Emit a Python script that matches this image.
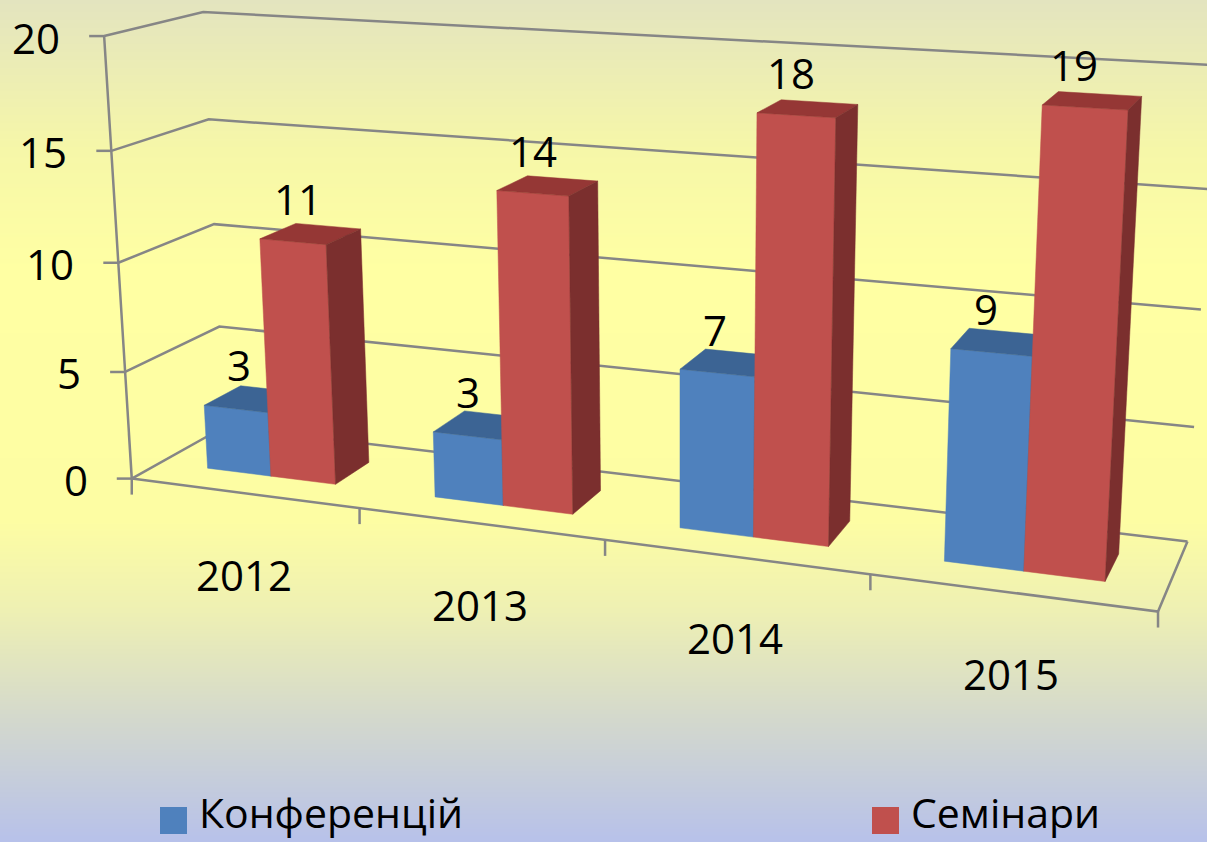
import numpy as np, plotly.graph_objects as go

years = ["2012", "2013", "2014", "2015"]
conf = [3, 3, 7, 9]
sem = [11, 14, 18, 19]
value_ticks = [0, 5, 10, 15, 20]
series_names = ["Конференцій", "Семінари"]
W, H = 1207, 842

# Camera of the 3-D chart: (category position, depth 0..1, value) -> picture
CAMERA = np.array([[214.85, 108.52, -1.6306, 131.77],
                   [11.204, -21.976, -22.213, 478.6],
                   [-0.036022, 0.070183, -0.002396, 1.0]])
def pr(X, Y, Z):
    h = CAMERA @ np.array([X, Y, Z, 1.0])
    return h[0] / h[2], h[1] / h[2]

fig = go.Figure()
stops = [0, 150, 270, 520, 610, 720, 842]
cols = ["#e3e4bf", "#f6f7a8", "#ffffa3", "#fdfda3", "#eef0b3", "#d3d8cd", "#b7c1ea"]
fig.add_trace(go.Heatmap(z=[[s, s] for s in stops], y=stops, x=[0, W],
                         colorscale=[[s / 842, c] for s, c in zip(stops, cols)],
                         zsmooth="best", showscale=False, hoverinfo="skip"))

GRID = "#868686"
def line(pts, w=2.5):
    q = [pr(*p) if len(p) == 3 else p for p in pts]
    fig.add_trace(go.Scatter(x=[a[0] for a in q], y=[a[1] for a in q], mode="lines",
                             line=dict(color=GRID, width=w), hoverinfo="skip"))
def poly(pts, c):
    q = [pr(*p) for p in pts] + [pr(*pts[0])]
    fig.add_trace(go.Scatter(x=[a[0] for a in q], y=[a[1] for a in q], mode="lines", fill="toself",
                             fillcolor=c, line=dict(color=c, width=.5), hoverinfo="skip"))

for v in value_ticks:
    line([(0, 0, v), (0, 1, v), (4, 1, v)])
    x, y = pr(0, 0, v)
    line([(x - 15, y), (x, y)])
line([(0, 0, 0), (0, 0, 20)])
line([(0, 0, 0), (4, 0, 0), (4, 1, 0)])
for i in range(5):
    x, y = pr(i, 0, 0)
    line([(x, y), (x, y + 16)])

BW, L, Y0, Y1 = .2857, .2143, .3, .7
def bar(x0, x1, z, fr, top, side):
    poly([(x0, Y0, 0), (x1, Y0, 0), (x1, Y0, z), (x0, Y0, z)], fr)
    poly([(x0, Y0, z), (x1, Y0, z), (x1, Y1, z), (x0, Y1, z)], top)
    poly([(x1, Y0, 0), (x1, Y1, 0), (x1, Y1, z), (x1, Y0, z)], side)
for i, (a, b) in enumerate(zip(conf, sem)):
    bar(i + L, i + L + BW, a, "#4f81bd", "#3c6494", "#3c6494")
    bar(i + L + BW, i + L + 2 * BW, b, "#c0504d", "#953735", "#7b2f2e")

ann = []
f = dict(family="Open Sans", size=42, color="black")
def T(x, y, t, font=f, xa="center", ya="middle"):
    ann.append(dict(x=x, y=y, text=t, showarrow=False, font=font, xanchor=xa, yanchor=ya, xref="x", yref="y"))
for v in value_ticks:
    x, y = pr(0, 0, v)
    T(x - 42, y + 1, str(v), xa="right")
for i, yr in enumerate(years):
    x, y = pr(i + .5, 0, 0)
    T(x, y + 81, yr)
    x, y = pr(i + L + BW / 2, Y0, conf[i])
    T(x - 1 + .01 * (600 - x), y - 44, str(conf[i]))
    x, y = pr(i + L + 1.5 * BW, Y0, sem[i])
    T(x - 1 + .02 * (600 - x), y - 43, str(sem[i]))

lf = dict(family="Open Sans", size=41, color="black")
shapes = []
for x0, c, n in ((160, "#4f81bd", series_names[0]), (872, "#c0504d", series_names[1])):
    shapes.append(dict(type="rect", x0=x0, x1=x0 + 27, y0=807, y1=834, fillcolor=c, line=dict(width=0), xref="x", yref="y"))
    T(x0 + 37, 842, n, lf, "left", "bottom")

fig.update_layout(width=W, height=H, margin=dict(l=0, r=0, t=0, b=0), showlegend=False, shapes=shapes, annotations=ann,
                  xaxis=dict(visible=False, range=[0, W], domain=[0, 1]),
                  yaxis=dict(visible=False, range=[H, 0], domain=[0, 1]))
fig.write_html("out.html", config=dict(displayModeBar=False),
               post_script="document.body.style.margin='0';document.body.style.overflow='hidden';")
